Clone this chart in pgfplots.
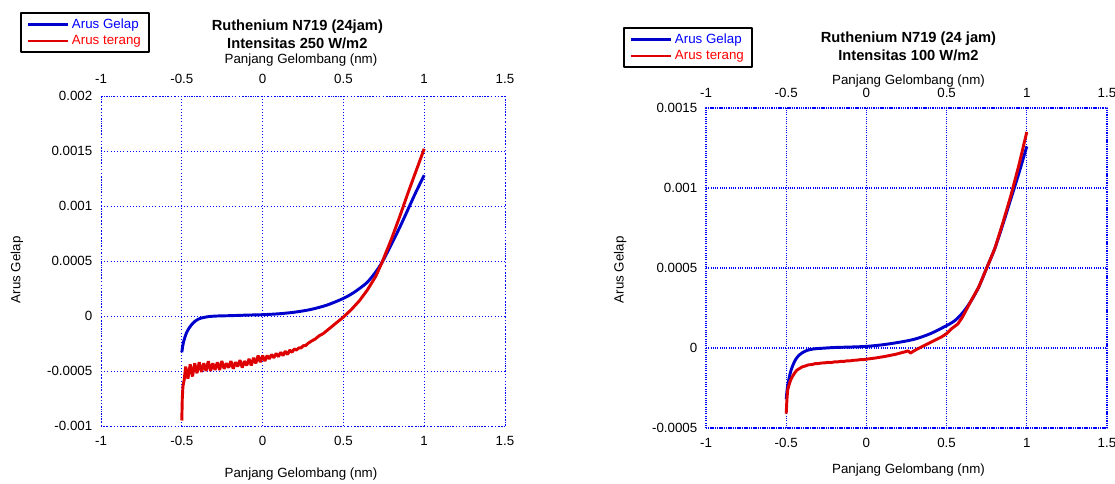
\documentclass[border=0pt]{standalone}
\usepackage{fontspec}
\setmainfont{Liberation Sans}
\usepackage{pgfplots}
\pgfplotsset{compat=1.18}
\definecolor{gridblue}{RGB}{0,0,255}
\definecolor{curveblue}{RGB}{0,0,205}
\definecolor{curvered}{RGB}{222,0,0}

\pgfplotsset{
  ivbase/.style={
    scale only axis,
    xmin=-1, xmax=1.5,
    xtick={-1,-0.5,0,0.5,1,1.5},
    xticklabels={-1,-0.5,0,0.5,1,1.5},
    scaled y ticks=false, scaled x ticks=false,
    major tick length=0pt,
    tick label style={font=\fontsize{10}{12}\selectfont},
    label style={font=\fontsize{10}{12}\selectfont},
  },
  ivmain/.style={
    ivbase,
    grid=major,
    grid style={gridblue, dotted, line width=0.7pt},
    axis line style={gridblue, dotted, line width=0.7pt},
    xticklabel style={yshift=-4pt},
    yticklabel style={xshift=-3pt},
    xlabel={Panjang Gelombang (nm)},
    ylabel={Arus Gelap},
    title style={font=\bfseries\fontsize{11}{13.5}\selectfont, align=center, anchor=center},
    legend cell align=left,
    legend image code/.code={\draw[#1] (0pt,0pt) -- (30pt,0pt);},
    legend style={draw=black, line width=1.6pt, font=\fontsize{10}{11}\selectfont,
      inner xsep=4pt, inner ysep=2pt, anchor=north west},
  },
  ivtop/.style={
    ivbase,
    axis x line*=top,
    hide y axis,
    axis line style={draw=none},
    ymin=0, ymax=1,
    xlabel={Panjang Gelombang (nm)},
  },
}

\begin{document}
\begin{tikzpicture}[line join=round]
\path[use as bounding box] (0,0) rectangle (836.25pt,363pt);

% ---------------- left: 250 W/m2 ----------------
\begin{axis}[ivmain,
  at={(75.75pt,43.5pt)}, anchor=south west,
  width=303pt, height=247.5pt,
  ymin=-0.001, ymax=0.002,
  ytick={-0.001,-0.0005,0,0.0005,0.001,0.0015,0.002},
  yticklabels={-0.001,-0.0005,0,0.0005,0.001,0.0015,0.002},
  title={Ruthenium N719 (24jam)\\Intensitas 250 W/m2},
  title style={at={(0.486,1.162)}},
  xlabel style={at={(0.495,-0.145)}, anchor=center},
  ylabel style={at={(-0.208,0.473)}, anchor=center},
  legend style={at={(-0.2005,1.2545)}},
]
\addplot[curveblue, line width=2.2pt, smooth] coordinates {
(-0.500,-0.00033) (-0.495,-0.00028) (-0.490,-0.00024) (-0.480,-0.00019)
(-0.470,-0.00015) (-0.455,-0.00011) (-0.440,-0.00008) (-0.420,-0.00005)
(-0.400,-0.00003) (-0.370,-0.000015) (-0.330,-0.000005) (-0.280,0.0)
(-0.200,0.000003) (-0.100,0.000008) (0.000,0.000012) (0.100,0.00002)
(0.200,0.000035) (0.300,0.00006) (0.400,0.0001) (0.500,0.00016)
(0.550,0.0002) (0.600,0.00025) (0.650,0.00031) (0.700,0.0004)
(0.740,0.00049) (0.800,0.00066) (0.850,0.00081) (0.900,0.00097)
(0.950,0.00113) (1.000,0.00128)
};
\addlegendentry{\textcolor{blue}{Arus Gelap}}
\addplot[curvered, line width=2.2pt, line join=bevel] coordinates {
(-0.500,-0.00095) (-0.497,-0.00075) (-0.493,-0.00064) (-0.485,-0.00058)
(-0.476,-0.00046) (-0.462,-0.00057) (-0.448,-0.00044) (-0.434,-0.00055)
(-0.420,-0.00043) (-0.406,-0.00052) (-0.392,-0.00042) (-0.378,-0.00051)
(-0.364,-0.00043) (-0.350,-0.00050) (-0.336,-0.00041) (-0.322,-0.00050)
(-0.308,-0.00043) (-0.294,-0.00049) (-0.280,-0.00042) (-0.266,-0.00049)
(-0.252,-0.00041) (-0.238,-0.00048) (-0.224,-0.00043) (-0.210,-0.00047)
(-0.196,-0.00041) (-0.182,-0.00048) (-0.168,-0.00042) (-0.154,-0.00046)
(-0.140,-0.00040) (-0.126,-0.00047) (-0.112,-0.00041) (-0.098,-0.00045)
(-0.084,-0.00039) (-0.070,-0.00045) (-0.056,-0.00038) (-0.042,-0.00043)
(-0.028,-0.00036) (-0.014,-0.00042) (0.000,-0.00036) (0.014,-0.00041)
(0.028,-0.00036) (0.042,-0.00039) (0.056,-0.00035) (0.070,-0.00038)
(0.084,-0.00034) (0.098,-0.00037) (0.112,-0.00033) (0.126,-0.00036)
(0.140,-0.00032) (0.154,-0.00035) (0.168,-0.00031) (0.182,-0.00033)
(0.196,-0.00030) (0.210,-0.00031) (0.224,-0.00029) (0.238,-0.00029)
(0.252,-0.00027) (0.266,-0.00027) (0.280,-0.00025) (0.300,-0.00023)
(0.325,-0.00021) (0.350,-0.00018) (0.375,-0.00016) (0.400,-0.00013)
(0.425,-0.00010) (0.450,-0.00007) (0.475,-0.00004) (0.500,-0.00001)
(0.550,0.00006) (0.600,0.00014) (0.650,0.00024) (0.700,0.00036)
(0.740,0.00049) (0.800,0.00071) (0.850,0.00091) (0.900,0.00112)
(0.950,0.00132) (1.000,0.00152)
};
\addlegendentry{\textcolor{red}{Arus terang}}
\end{axis}
\begin{axis}[ivtop,
  at={(75.75pt,43.5pt)}, anchor=south west,
  width=303pt, height=247.5pt,
  xticklabel style={yshift=5.5pt},
  xlabel style={at={(0.495,1.109)}, anchor=center},
]
\end{axis}

% ---------------- right: 100 W/m2 ----------------
\begin{axis}[ivmain,
  at={(529.5pt,42pt)}, anchor=south west,
  width=300.75pt, height=240pt,
  ymin=-0.0005, ymax=0.0015,
  ytick={-0.0005,0,0.0005,0.001,0.0015},
  yticklabels={-0.0005,0,0.0005,0.001,0.0015},
  grid style={gridblue, densely dotted, line width=0.8pt},
  axis line style={gridblue, densely dotted, line width=0.9pt},
  title={Ruthenium N719 (24 jam)\\Intensitas 100 W/m2},
  title style={at={(0.505,1.168)}},
  xlabel style={at={(0.505,-0.131)}, anchor=center},
  ylabel style={at={(-0.214,0.494)}, anchor=center},
  legend style={at={(-0.207,1.253)}},
]
\addplot[curveblue, line width=2.2pt, smooth] coordinates {
(-0.500,-0.00032) (-0.495,-0.00027) (-0.490,-0.00023) (-0.480,-0.00018)
(-0.470,-0.00014) (-0.455,-0.00010) (-0.440,-0.00007) (-0.420,-0.000045)
(-0.400,-0.00003) (-0.370,-0.000015) (-0.330,-0.000006) (-0.280,-0.000002)
(-0.200,0.000003) (-0.100,0.000006) (0.000,0.00001) (0.100,0.00002)
(0.200,0.000035) (0.300,0.000055) (0.400,0.00009) (0.500,0.00014)
(0.550,0.00017) (0.600,0.00022) (0.650,0.00029) (0.700,0.00038)
(0.750,0.00050) (0.800,0.00062) (0.850,0.00077) (0.900,0.00093)
(0.950,0.00109) (1.000,0.00126)
};
\addlegendentry{\textcolor{blue}{Arus Gelap}}
\addplot[curvered, line width=2.2pt] coordinates {
(-0.500,-0.00041) (-0.497,-0.00035) (-0.494,-0.00030) (-0.490,-0.00026)
(-0.482,-0.00023) (-0.472,-0.00020) (-0.462,-0.00018) (-0.450,-0.00016)
(-0.435,-0.00014) (-0.420,-0.00013) (-0.400,-0.000118) (-0.380,-0.000112)
(-0.360,-0.000105) (-0.340,-0.000104) (-0.320,-0.000098) (-0.300,-0.000097)
(-0.280,-0.000094) (-0.260,-0.000093) (-0.240,-0.000090) (-0.220,-0.000091)
(-0.200,-0.000087) (-0.180,-0.000087) (-0.160,-0.000083) (-0.140,-0.000084)
(-0.120,-0.000080) (-0.100,-0.000080) (-0.080,-0.000077) (-0.060,-0.000076)
(-0.040,-0.000073) (-0.020,-0.000073) (0.000,-0.000070) (0.030,-0.000066)
(0.060,-0.000062) (0.090,-0.000057) (0.120,-0.000052) (0.150,-0.000046)
(0.180,-0.000040) (0.210,-0.000032) (0.240,-0.000024) (0.260,-0.000018)
(0.275,-0.000032) (0.290,-0.000022) (0.320,-0.000005) (0.350,0.00001)
(0.380,0.000025) (0.410,0.00004) (0.440,0.000055) (0.470,0.00007)
(0.500,0.00009) (0.530,0.00012) (0.550,0.000135) (0.570,0.00015)
(0.600,0.000195) (0.650,0.00029) (0.700,0.00038) (0.750,0.00050)
(0.800,0.00062) (0.850,0.00078) (0.900,0.00095) (0.950,0.00114)
(1.000,0.00135)
};
\addlegendentry{\textcolor{red}{Arus terang}}
\end{axis}
\begin{axis}[ivtop,
  at={(529.5pt,42pt)}, anchor=south west,
  width=300.75pt, height=240pt,
  xticklabel style={yshift=4pt},
  xlabel style={at={(0.505,1.084)}, anchor=center},
]
\end{axis}
\end{tikzpicture}
\end{document}
